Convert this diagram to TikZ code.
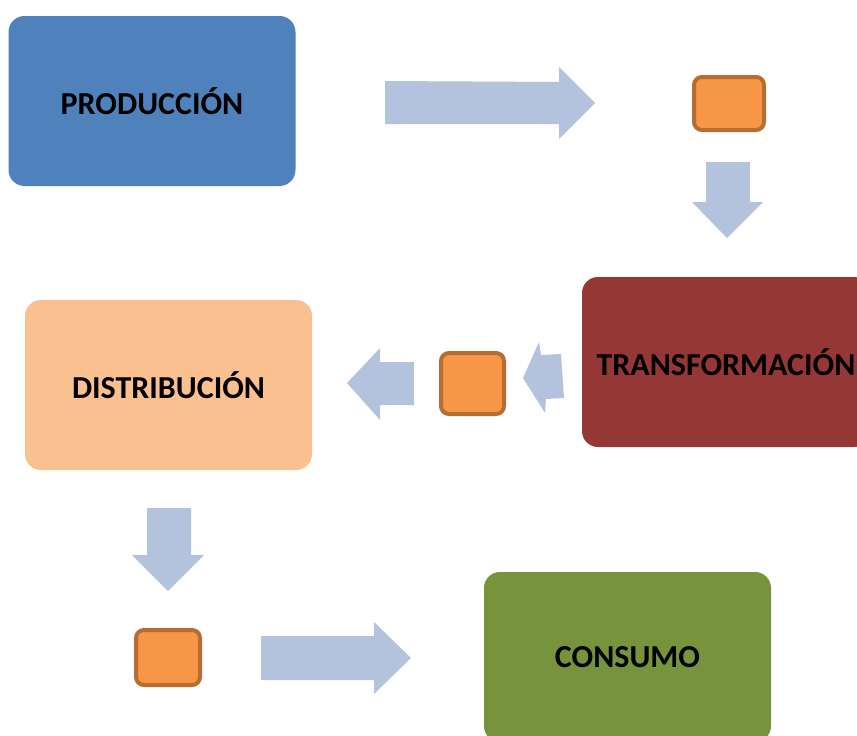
\documentclass[tikz,border=0pt]{standalone}
\usepackage{fontspec}
\setmainfont{Carlito}
\definecolor{cblue}{HTML}{4F81BD}
\definecolor{cred}{HTML}{953735}
\definecolor{cpeach}{HTML}{FAC090}
\definecolor{cgreen}{HTML}{77933C}
\definecolor{corange}{HTML}{F79646}
\definecolor{corangedark}{HTML}{B66D31}
\definecolor{carrow}{HTML}{B3C3DE}
\tikzset{
  bigbox/.style={rectangle, rounded corners=16pt, minimum width=287pt, minimum height=170pt,
    inner sep=0pt, font=\fontsize{32}{38}\selectfont\bfseries, text=black},
  smallsq/.style={rectangle, rounded corners=8pt, fill=corange, draw=corangedark, line width=4pt, inner sep=0pt},
  blockarrow/.style={fill=carrow, draw=none}
}
\begin{document}
\begin{tikzpicture}[x=1pt,y=-1pt]
\useasboundingbox (0,0) rectangle (857,736);
\clip (0,0) rectangle (857,736);
% boxes
\node[bigbox, fill=cblue] (prod) at (152,101) {PRODUCCIÓN};
\node[bigbox, fill=cred, minimum width=288pt] (trans) at (726,362) {TRANSFORMACIÓN};
\node[bigbox, fill=cpeach] (dist) at (168.5,385) {DISTRIBUCIÓN};
\node[bigbox, fill=cgreen] (cons) at (627.5,657) {CONSUMO};
% small squares
\node[smallsq, minimum width=70pt, minimum height=53pt] (sqa) at (729,103.5) {};
\node[smallsq, minimum width=63pt, minimum height=61pt] (sqb) at (472.5,383.5) {};
\node[smallsq, minimum width=64pt, minimum height=55pt] (sqc) at (168,657.5) {};
% block arrows
\fill[blockarrow] (385,81) -- (559,82) -- (559,67) -- (595,103) -- (559,139) -- (559,124) -- (385,124) -- cycle;
\fill[blockarrow] (706,162) -- (750,162) -- (750,202) -- (763,202) -- (727,238) -- (692,202) -- (706,202) -- cycle;
\fill[blockarrow] (523,378) -- (539,342) -- (541,355) -- (561,354) -- (564,398) -- (546,399) -- (545,413) -- cycle;
\fill[blockarrow] (347,383) -- (380,348) -- (380,362) -- (414,362) -- (414,405) -- (380,405) -- (380,420) -- cycle;
\fill[blockarrow] (147,508) -- (191,508) -- (191,555) -- (204,555) -- (168,591) -- (132,555) -- (147,555) -- cycle;
\fill[blockarrow] (261,636) -- (374,636) -- (374,622) -- (411,658) -- (374,694) -- (374,680) -- (261,680) -- cycle;
\end{tikzpicture}
\end{document}
